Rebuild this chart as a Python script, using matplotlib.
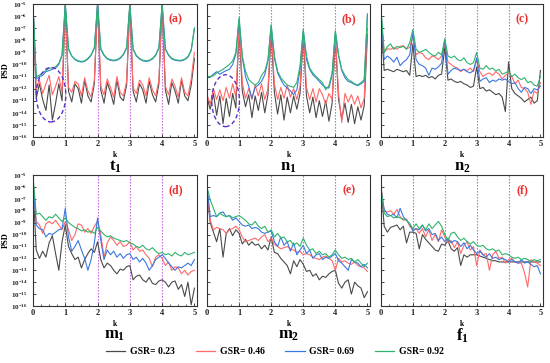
import numpy as np
import matplotlib
matplotlib.use('Agg')
import matplotlib.pyplot as plt
from matplotlib.patches import Ellipse
from matplotlib.lines import Line2D
from matplotlib.ticker import NullLocator, MultipleLocator

# ---------------- data (log10 PSD, sampled at k = 0, 0.1, ..., 5.0) ----------------
series_labels = ['GSR= 0.23', 'GSR= 0.46', 'GSR= 0.69', 'GSR= 0.92']
panel_tags = ['(a)', '(b)', '(c)', '(d)', '(e)', '(f)']
panel_names = [('t', '1'), ('n', '1'), ('n', '2'), ('m', '1'), ('m', '2'), ('f', '1')]
x_ticks = [0, 1, 2, 3, 4, 5]
y_exponents = list(range(-16, -4))

a_gray = [-5.0, -12.8, -11.6, -12.9, -13.8, -11.7, -14.6, -13.2, -11.6, -13.0,
          -5.0, -12.2, -13.1, -11.6, -12.0, -13.2, -11.3, -12.6, -13.1, -11.6,
          -5.0, -12.1, -13.2, -11.5, -12.3, -13.3, -11.3, -12.7, -13.0, -11.7,
          -5.0, -12.2, -13.1, -11.6, -12.1, -13.2, -11.4, -12.5, -13.1, -11.6,
          -5.0, -12.1, -13.3, -11.5, -12.2, -13.2, -11.3, -12.6, -13.0, -11.7,
          -9.5]
a_red = [-5.0, -12.0, -11.3, -12.4, -11.6, -10.9, -12.5, -11.8, -11.0, -12.3,
         -5.0, -11.9, -12.3, -11.4, -11.6, -12.6, -11.1, -12.2, -12.7, -11.3,
         -5.0, -11.8, -12.5, -11.2, -11.9, -12.7, -11.0, -12.3, -12.6, -11.4,
         -5.0, -11.9, -12.4, -11.3, -11.7, -12.6, -11.1, -12.1, -12.6, -11.3,
         -5.0, -11.8, -12.5, -11.2, -11.8, -12.7, -11.1, -12.3, -12.6, -11.2,
         -9.0]
a_blue = [-5.0, -11.2, -11.0, -10.9, -10.6, -10.5, -10.4, -10.3, -10.0, -9.25,
          -5.0, -8.75, -9.3, -9.6, -9.75, -9.8, -9.75, -9.55, -9.25, -8.65,
          -5.0, -8.75, -9.25, -9.55, -9.65, -9.7, -9.65, -9.5, -9.2, -8.65,
          -5.0, -8.75, -9.3, -9.55, -9.7, -9.75, -9.7, -9.55, -9.25, -8.65,
          -5.0, -8.75, -9.25, -9.55, -9.65, -9.7, -9.7, -9.6, -9.4, -8.85,
          -7.0]
a_green = [-5.0, -11.0, -10.9, -10.7, -10.5, -10.3, -10.3, -10.2, -9.9, -9.2,
           -5.0, -8.7, -9.3, -9.55, -9.7, -9.75, -9.7, -9.5, -9.2, -8.6,
           -5.0, -8.7, -9.2, -9.5, -9.6, -9.65, -9.6, -9.45, -9.15, -8.6,
           -5.0, -8.7, -9.25, -9.5, -9.65, -9.7, -9.65, -9.5, -9.2, -8.6,
           -5.0, -8.7, -9.2, -9.5, -9.6, -9.65, -9.65, -9.55, -9.35, -8.8,
           -7.0]

b_gray = [-12.8, -13.7, -12.4, -14.2, -12.6, -14.9, -12.8, -14.3, -12.4, -13.6,
          -7.0, -12.2, -13.5, -12.5, -14.4, -12.6, -13.8, -12.3, -14.0, -12.5,
          -7.3, -12.3, -14.1, -12.5, -14.6, -12.7, -14.0, -12.6, -13.7, -12.4,
          -7.6, -12.6, -14.0, -12.7, -14.4, -13.0, -14.3, -13.0, -14.7, -13.2,
          -7.8, -12.9, -14.5, -13.2, -14.8, -13.3, -14.9, -13.5, -14.6, -13.4,
          -7.5]
b_red = [-12.5, -13.3, -12.0, -12.9, -12.1, -13.0, -11.9, -12.8, -11.6, -12.7,
         -6.8, -11.5, -12.8, -12.0, -12.9, -11.7, -12.6, -11.6, -12.9, -12.0,
         -7.0, -11.6, -12.9, -11.9, -12.8, -11.7, -12.7, -12.0, -12.9, -11.8,
         -7.4, -11.9, -12.9, -12.0, -13.1, -12.0, -12.5, -13.3, -12.4, -12.9,
         -7.6, -12.4, -14.8, -12.4, -13.1, -12.5, -13.3, -12.6, -13.6, -12.8,
         -7.0]
b_blue = [-11.0, -11.05, -10.8, -10.6, -10.8, -10.65, -10.5, -10.4, -10.0, -9.15,
          -6.25, -9.4, -11.0, -11.8, -12.8, -11.9, -11.7, -11.4, -10.85, -9.7,
          -6.8, -9.45, -10.7, -11.25, -11.7, -11.95, -12.2, -12.5, -12.1, -10.4,
          -7.2, -9.6, -10.4, -10.85, -11.1, -11.4, -11.7, -11.9, -11.95, -10.85,
          -7.3, -9.3, -10.5, -11.1, -11.4, -11.5, -11.65, -11.75, -11.6, -11.4,
          -5.9]
b_green = [-11.0, -11.0, -10.95, -10.7, -10.55, -10.4, -10.2, -10.0, -9.7, -9.0,
           -6.1, -9.3, -10.55, -11.25, -11.5, -11.7, -11.5, -10.9, -10.55, -9.6,
           -6.7, -9.3, -10.55, -11.1, -11.4, -11.7, -11.8, -11.9, -11.5, -10.1,
           -7.1, -9.3, -10.3, -10.7, -11.0, -11.25, -11.5, -12.1, -11.75, -10.7,
           -7.2, -9.2, -10.4, -10.9, -11.25, -11.4, -11.6, -11.7, -11.5, -11.25,
           -5.8]

c_gray = [-6.5, -10.5, -10.4, -10.5, -10.6, -10.4, -10.5, -10.6, -10.5, -10.9,
          -8.3, -11.0, -10.9, -11.0, -10.9, -11.1, -11.0, -11.2, -10.9, -10.8,
          -8.6, -11.3, -11.2, -11.4, -11.5, -11.4, -11.6, -11.7, -11.9, -11.8,
          -10.2, -12.0, -11.9, -12.2, -12.1, -12.3, -12.5, -12.4, -12.7, -13.9,
          -9.8, -12.0, -12.4, -12.6, -12.8, -13.1, -12.9, -12.7, -13.2, -13.0,
          -10.5]
c_red = [-6.0, -9.0, -8.7, -8.75, -8.6, -8.75, -8.5, -8.45, -8.7, -8.6,
         -7.6, -9.2, -9.0, -9.1, -9.45, -9.6, -9.3, -9.4, -9.6, -9.3,
         -8.2, -9.8, -10.0, -10.2, -10.3, -10.6, -10.4, -10.5, -10.3, -10.6,
         -9.6, -10.6, -11.0, -10.8, -10.7, -10.9, -10.6, -10.8, -11.2, -10.9,
         -10.7, -11.0, -11.6, -11.3, -11.9, -12.0, -12.3, -13.3, -12.2, -12.4,
         -11.5]
c_blue = [-5.6, -9.6, -9.3, -9.5, -9.8, -9.4, -10.1, -9.8, -9.6, -9.2,
          -7.4, -9.6, -10.0, -10.1, -10.3, -10.9, -10.3, -10.4, -10.2, -9.9,
          -7.9, -10.8, -10.5, -10.3, -10.4, -10.5, -10.4, -10.6, -10.7, -10.5,
          -9.45, -11.4, -11.2, -11.1, -11.5, -11.3, -11.4, -11.2, -11.3, -11.2,
          -11.4, -11.6, -11.5, -12.0, -12.3, -11.9, -12.0, -12.4, -12.0, -12.1,
          -11.8]
c_green = [-5.4, -9.0, -8.5, -8.3, -8.75, -8.5, -8.6, -8.5, -8.75, -8.2,
           -7.1, -8.75, -9.0, -8.9, -8.75, -9.0, -9.2, -9.3, -9.0, -9.2,
           -7.9, -9.3, -9.45, -9.3, -9.6, -9.7, -9.45, -9.85, -10.0, -9.85,
           -9.0, -10.3, -10.4, -10.1, -10.4, -10.3, -10.55, -10.4, -10.8, -10.7,
           -10.55, -11.0, -10.8, -11.1, -11.25, -11.1, -11.5, -11.4, -11.7, -11.8,
           -11.0]

d_gray = [-6.0, -11.3, -12.0, -11.4, -11.9, -10.7, -10.1, -11.6, -13.0, -10.6,
          -9.2, -11.0, -11.6, -12.1, -11.9, -12.8, -12.1, -11.6, -11.2, -11.5,
          -10.6, -12.1, -12.8, -12.4, -12.6, -13.0, -13.3, -12.9, -13.0, -12.7,
          -12.6, -13.8, -13.5, -13.4, -13.8, -14.0, -13.6, -14.1, -14.2, -13.9,
          -13.8, -14.0, -14.4, -14.0, -13.9, -14.6, -14.2, -15.2, -14.0, -15.9,
          -14.5]
d_red = [-5.3, -8.9, -9.2, -9.9, -9.1, -8.9, -9.1, -8.8, -9.2, -9.6,
         -8.9, -9.6, -10.5, -10.0, -9.1, -9.2, -9.8, -9.5, -9.9, -9.3,
         -8.9, -10.0, -11.9, -10.7, -10.2, -10.5, -10.9, -10.6, -11.0, -10.9,
         -10.6, -11.3, -11.0, -11.4, -11.3, -11.7, -12.0, -12.7, -11.9, -11.7,
         -12.0, -12.6, -12.3, -13.0, -12.7, -12.8, -13.3, -13.0, -13.4, -13.1,
         -13.0]
d_blue = [-5.5, -9.2, -9.5, -9.6, -10.2, -9.9, -10.0, -9.8, -9.6, -9.5,
          -7.8, -10.2, -11.4, -11.0, -10.5, -11.3, -12.0, -13.0, -12.1, -10.7,
          -8.6, -10.5, -12.1, -11.3, -11.7, -11.4, -11.9, -11.6, -12.0, -11.7,
          -11.6, -12.1, -11.9, -12.3, -12.0, -12.4, -13.0, -12.6, -12.1, -11.9,
          -11.7, -12.0, -12.4, -12.7, -13.0, -12.7, -12.8, -12.6, -12.4, -12.6,
          -12.1]
d_green = [-5.1, -8.3, -8.2, -8.5, -8.8, -8.5, -8.6, -8.3, -8.6, -8.9,
           -8.6, -9.0, -9.2, -9.4, -9.5, -9.7, -9.6, -9.8, -9.7, -9.9,
           -9.4, -9.7, -10.0, -10.2, -10.1, -10.3, -10.4, -10.5, -10.6, -10.5,
           -10.7, -10.8, -11.0, -11.1, -10.9, -11.2, -11.3, -11.1, -11.4, -11.6,
           -11.5, -11.7, -11.6, -11.8, -11.5, -11.7, -11.8, -11.5, -11.7, -11.6,
           -11.5]

e_gray = [-6.5, -9.0, -9.8, -10.6, -9.5, -11.9, -9.9, -9.5, -10.1, -9.6,
          -9.9, -10.8, -10.4, -10.9, -10.6, -10.9, -10.8, -11.2, -10.9, -11.3,
          -10.2, -11.5, -11.6, -12.0, -12.3, -12.6, -13.3, -12.2, -12.7, -12.1,
          -12.5, -13.1, -13.0, -13.5, -13.3, -13.8, -13.5, -13.6, -13.3, -13.1,
          -13.0, -14.1, -14.5, -14.0, -13.8, -15.0, -14.0, -14.3, -14.5, -15.3,
          -14.8]
e_red = [-6.2, -8.8, -9.6, -9.4, -9.5, -9.6, -9.9, -9.6, -9.5, -9.3,
         -9.6, -10.2, -10.6, -10.5, -10.4, -10.3, -10.5, -10.2, -10.0, -10.6,
         -10.3, -10.8, -11.0, -11.2, -11.1, -11.0, -11.2, -11.3, -11.5, -11.4,
         -11.7, -11.6, -11.7, -11.9, -12.0, -12.1, -11.9, -11.8, -12.0, -12.2,
         -13.0, -12.0, -12.3, -12.2, -12.4, -12.5, -12.3, -12.6, -12.7, -12.8,
         -13.1]
e_blue = [-5.9, -8.5, -8.4, -8.5, -8.2, -8.1, -8.5, -8.4, -8.8, -8.6,
          -8.9, -9.2, -9.3, -9.2, -9.5, -9.4, -9.5, -9.8, -9.9, -9.8,
          -9.7, -10.6, -11.0, -10.2, -10.9, -10.6, -11.4, -10.7, -11.7, -11.3,
          -10.9, -11.6, -11.3, -12.0, -11.7, -11.6, -12.1, -11.9, -12.0, -11.8,
          -11.6, -12.2, -12.4, -12.7, -13.0, -12.1, -12.3, -12.4, -12.7, -12.5,
          -12.8]
e_green = [-6.0, -7.1, -7.8, -8.5, -8.2, -8.4, -8.5, -8.4, -8.6, -8.5,
           -8.4, -8.6, -8.8, -9.1, -9.2, -8.9, -9.3, -9.5, -9.3, -9.8,
           -9.6, -10.2, -9.9, -10.3, -10.2, -10.6, -10.5, -10.9, -10.7, -11.0,
           -10.3, -10.9, -11.3, -11.2, -11.6, -11.4, -11.7, -11.6, -11.9, -11.7,
           -11.3, -11.7, -12.0, -11.9, -12.1, -12.0, -12.3, -12.1, -12.4, -12.7,
           -12.4]

f_gray = [-5.8, -9.3, -9.8, -9.4, -9.3, -9.2, -9.6, -9.3, -10.7, -9.8,
          -9.8, -9.9, -11.2, -10.0, -10.4, -10.7, -11.0, -11.3, -11.4, -10.8,
          -10.9, -10.5, -11.2, -11.4, -11.1, -12.6, -11.7, -11.9, -11.7, -11.7,
          -11.7, -11.8, -11.9, -12.0, -12.1, -12.2, -12.2, -12.3, -12.3, -12.3,
          -12.3, -12.3, -12.3, -12.3, -12.3, -12.3, -12.3, -12.3, -12.3, -12.3,
          -12.3]
f_red = [-6.0, -8.0, -8.1, -8.0, -8.3, -7.9, -8.5, -8.8, -8.7, -9.3,
         -9.6, -9.5, -9.9, -9.5, -10.2, -9.6, -10.5, -10.0, -10.6, -9.6,
         -10.2, -10.7, -10.5, -11.1, -10.6, -11.6, -10.9, -10.6, -11.3, -11.0,
         -12.6, -11.3, -11.7, -11.6, -13.0, -11.7, -11.4, -12.0, -11.9, -12.4,
         -12.1, -12.0, -12.3, -12.4, -12.4, -13.2, -14.4, -12.1, -12.3, -12.4,
         -12.6]
f_blue = [-6.3, -7.9, -8.3, -8.4, -8.3, -8.6, -7.8, -8.5, -8.8, -9.1,
          -9.7, -9.5, -9.6, -9.2, -9.7, -9.5, -10.0, -9.9, -10.5, -10.2,
          -10.6, -10.3, -10.7, -10.5, -10.6, -11.0, -10.7, -11.2, -10.9, -11.3,
          -11.6, -11.4, -11.7, -11.9, -11.6, -12.0, -11.9, -12.1, -12.0, -12.1,
          -12.3, -12.1, -12.3, -12.4, -12.1, -12.4, -12.3, -12.5, -12.7, -12.6,
          -13.3]
f_green = [-6.1, -8.2, -8.5, -8.4, -8.6, -8.5, -8.6, -8.7, -8.8, -9.1,
           -9.5, -9.1, -9.5, -9.2, -9.6, -9.1, -9.5, -9.2, -8.9, -9.3,
           -10.0, -10.5, -9.9, -9.8, -10.2, -10.5, -10.3, -10.6, -10.8, -10.6,
           -10.9, -11.0, -10.9, -11.2, -11.3, -11.2, -11.4, -11.3, -11.7, -11.6,
           -11.7, -11.9, -12.0, -11.9, -12.1, -12.0, -12.1, -12.3, -12.1, -12.2,
           -12.1]

panels = [
    [a_gray, a_red, a_blue, a_green],
    [b_gray, b_red, b_blue, b_green],
    [c_gray, c_red, c_blue, c_green],
    [d_gray, d_red, d_blue, d_green],
    [e_gray, e_red, e_blue, e_green],
    [f_gray, f_red, f_blue, f_green],
]

# ---------------- style ----------------
colors = ['#4a4a4a', '#ff6868', '#3a78e0', '#2fb36e']
vline_color = '#c050d8'
ellipse_color = '#5b2fc9'

plt.rcParams['font.family'] = ['Liberation Serif', 'DejaVu Serif']
plt.rcParams['font.weight'] = 'bold'
plt.rcParams['mathtext.fontset'] = 'custom'
plt.rcParams['mathtext.rm'] = 'Liberation Serif:bold'
plt.rcParams['mathtext.bf'] = 'Liberation Serif:bold'
plt.rcParams['mathtext.it'] = 'Liberation Serif:italic:bold'

W, H = 550, 363
fig = plt.figure(figsize=(W / 100, H / 100), dpi=100)

lefts = [33, 207, 381]
widths = [164, 163, 162]
row_tops = [4, 175]
row_bottoms = [137, 306]

for idx, series in enumerate(panels):
    r, c = divmod(idx, 3)
    x0 = lefts[c] / W
    w = widths[c] / W
    y0 = 1 - row_bottoms[r] / H
    h = (row_bottoms[r] - row_tops[r]) / H
    ax = fig.add_axes([x0, y0, w, h])
    for vals, col in zip(series, colors):
        k = np.linspace(0, 5, len(vals))
        ax.plot(k, 10.0 ** np.array(vals), color=col, lw=0.8)
    for xv in [1, 2, 3, 4]:
        ax.axvline(xv, color=vline_color, ls=(0, (1.2, 1.5)), lw=0.8, zorder=0.5)
    ax.set_yscale('log')
    ax.set_ylim(1e-16, 1e-5)
    ax.set_xlim(0, 5.08)
    ax.set_yticks([10.0 ** e for e in y_exponents])
    ax.yaxis.set_minor_locator(NullLocator())
    ax.xaxis.set_minor_locator(MultipleLocator(0.25))
    if c == 0:
        ax.set_yticklabels([r'$\mathbf{10^{%d}}$' % e for e in y_exponents], fontsize=5)
        ax.set_ylabel('PSD', fontsize=6, fontweight='bold', labelpad=1)
    else:
        ax.set_yticklabels([])
    ax.set_xticks(x_ticks)
    ax.set_xticklabels([str(t) for t in x_ticks], fontsize=6, fontweight='bold')
    ax.tick_params(which='major', direction='in', length=2.5, width=0.6, pad=2, colors='#222222')
    ax.tick_params(which='minor', direction='in', length=1.3, width=0.5, colors='#222222')
    ax.tick_params(axis='y', pad=4)
    for sp in ax.spines.values():
        sp.set_linewidth(0.8)
        sp.set_color('#333333')
    ax.set_xlabel('k', fontsize=5.5, fontweight='bold', labelpad=2)
    ax.text(0.87, 0.885, panel_tags[idx], transform=ax.transAxes, color='#ee3030',
            fontsize=8.5, fontweight='bold', ha='center', va='center')
    base, sub = panel_names[idx]
    ax.text(0.5, -0.225, r'$\mathbf{%s}_{\mathbf{%s}}$' % (base, sub), transform=ax.transAxes,
            fontsize=12, ha='center', va='center')
    if idx == 0:
        ax.add_patch(Ellipse((0.11, 0.318), 0.18, 0.41, transform=ax.transAxes, fill=False,
                             ec=ellipse_color, ls=(0, (3, 2)), lw=1.0, zorder=5))
    if idx == 1:
        ax.add_patch(Ellipse((0.114, 0.273), 0.17, 0.39, transform=ax.transAxes, fill=False,
                             ec=ellipse_color, ls=(0, (3, 2)), lw=1.0, zorder=5))

handles = [Line2D([0], [0], color=col, lw=0.9) for col in colors]
fig.legend(handles, series_labels, ncol=4, loc='center', bbox_to_anchor=(0.5, 1 - 352 / H),
           frameon=False, prop={'family': 'Liberation Serif', 'weight': 'bold', 'size': 7},
           handlelength=2.0, columnspacing=2.1, handletextpad=0.5)

fig.savefig('out.png', dpi=100)
